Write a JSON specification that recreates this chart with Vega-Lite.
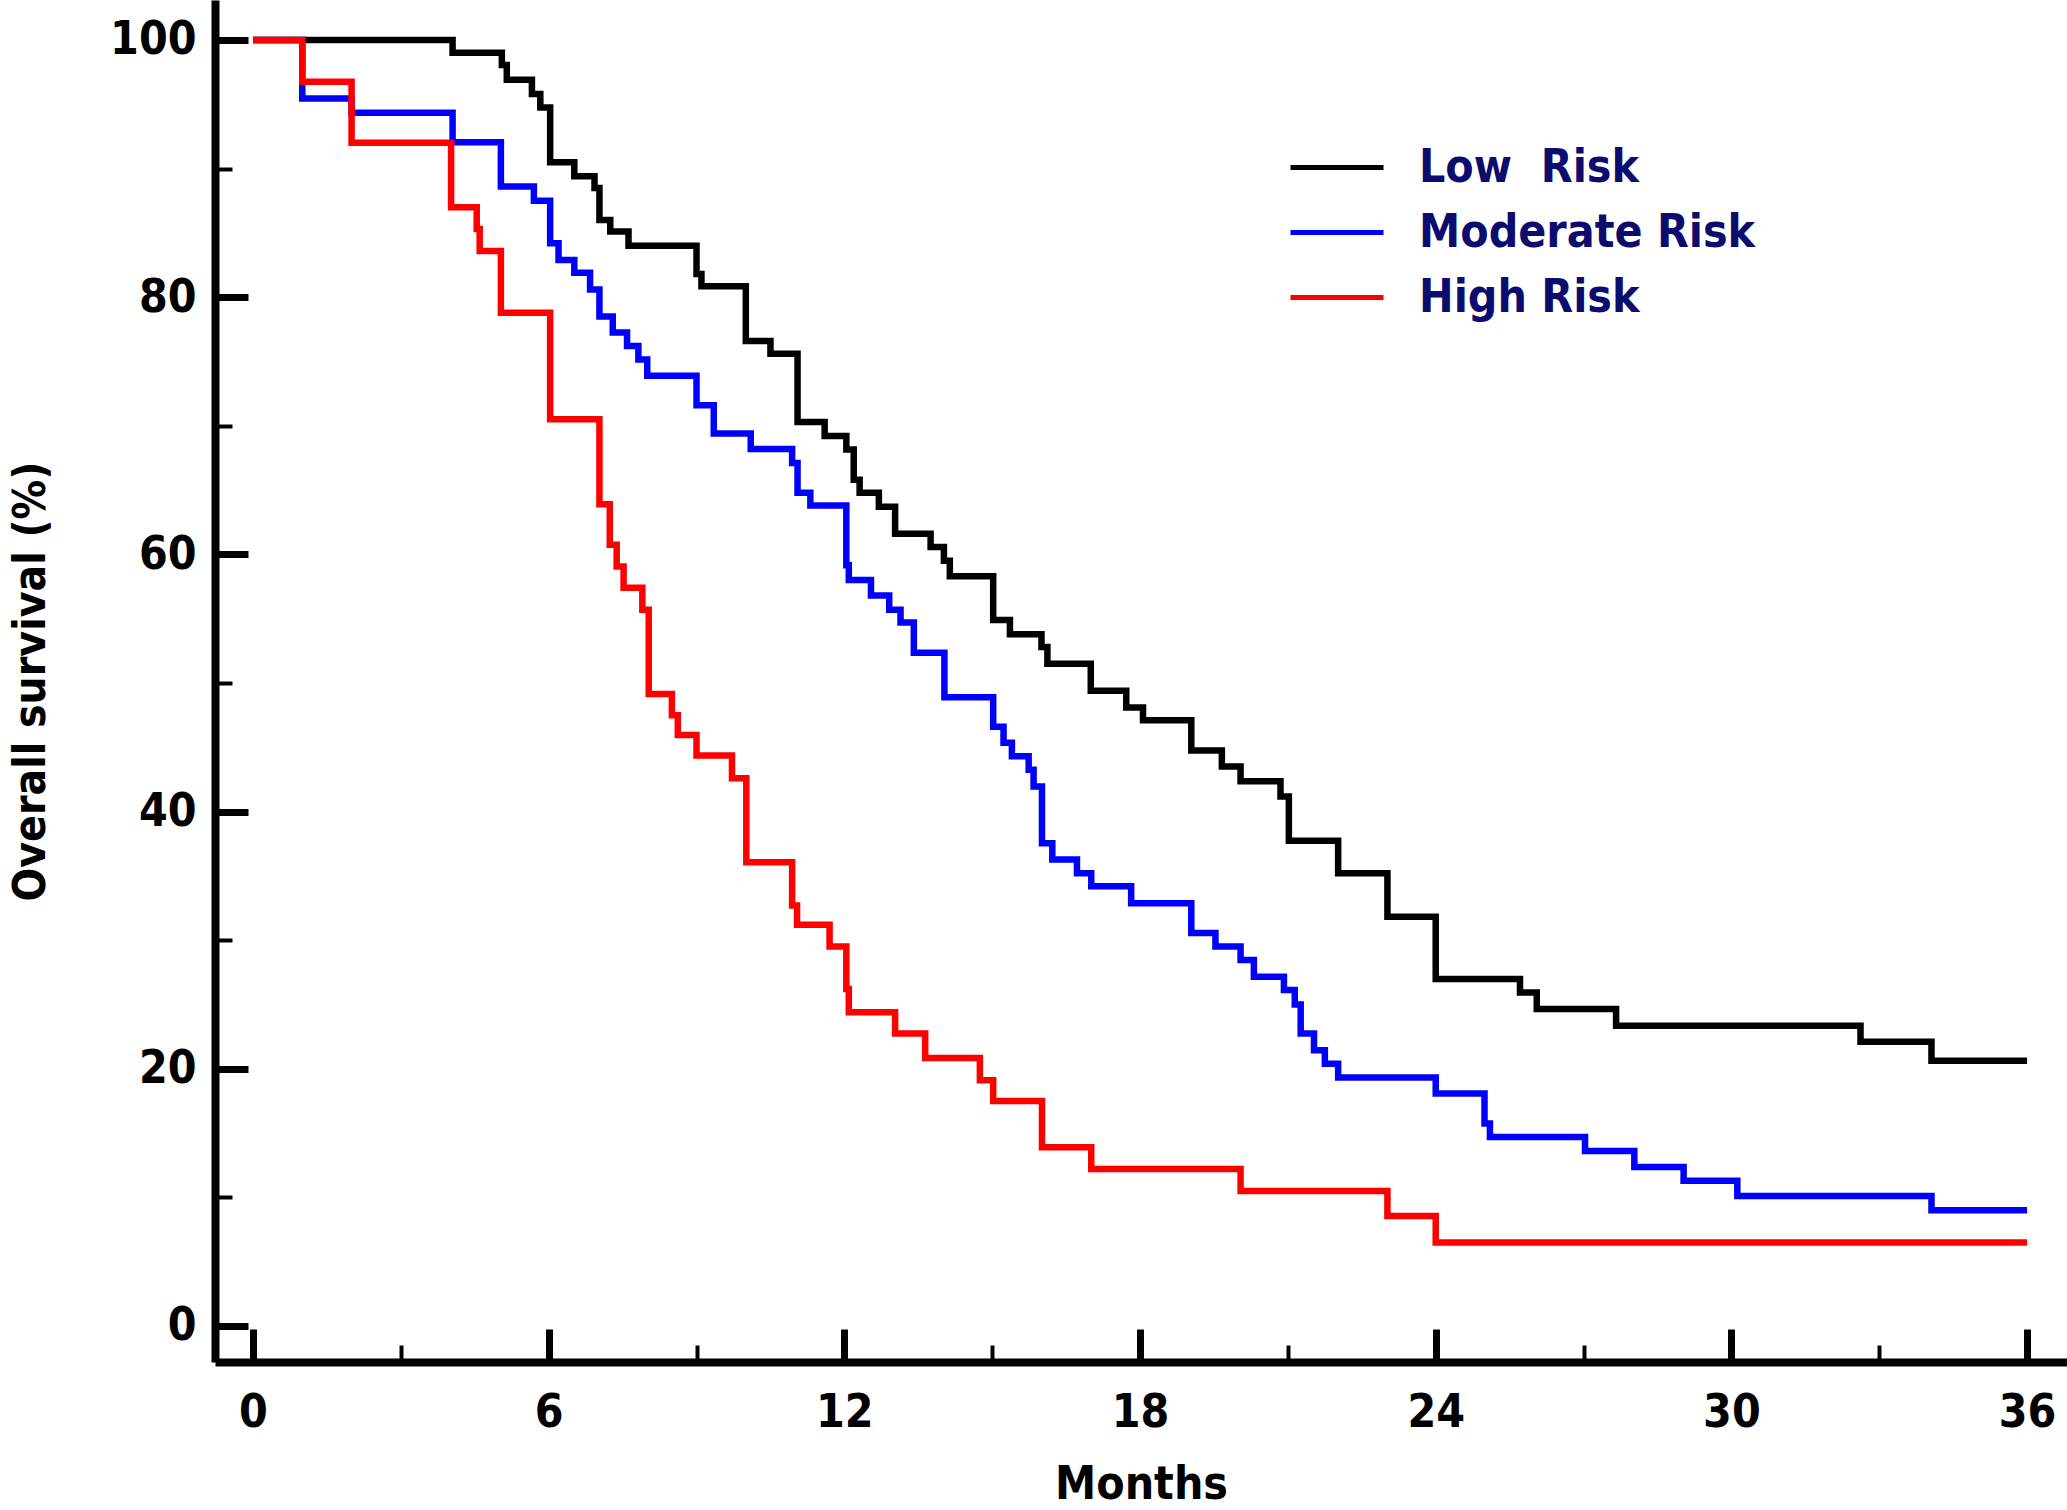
{
  "$schema": "https://vega.github.io/schema/vega-lite/v6.json",
  "width": 1852,
  "height": 1362,
  "autosize": {"type": "none"},
  "padding": {"left": 215, "top": 0, "right": 0, "bottom": 148},
  "background": "white",
  "config": {
    "view": {"stroke": null},
    "font": "DejaVu Sans Condensed",
    "axis": {"grid": false, "labelFont": "DejaVu Sans Condensed", "titleFont": "DejaVu Sans Condensed"}
  },
  "data": {
    "values": [
      {"group": "Low\u00a0 Risk", "month": 0, "pct": 100},
      {"group": "Low\u00a0 Risk", "month": 4.05, "pct": 99.0},
      {"group": "Low\u00a0 Risk", "month": 5.05, "pct": 98.05},
      {"group": "Low\u00a0 Risk", "month": 5.15, "pct": 96.9},
      {"group": "Low\u00a0 Risk", "month": 5.66, "pct": 95.8},
      {"group": "Low\u00a0 Risk", "month": 5.83, "pct": 94.76},
      {"group": "Low\u00a0 Risk", "month": 6.03, "pct": 90.5},
      {"group": "Low\u00a0 Risk", "month": 6.52, "pct": 89.4},
      {"group": "Low\u00a0 Risk", "month": 6.93, "pct": 88.5},
      {"group": "Low\u00a0 Risk", "month": 7.03, "pct": 86.0},
      {"group": "Low\u00a0 Risk", "month": 7.25, "pct": 85.1},
      {"group": "Low\u00a0 Risk", "month": 7.62, "pct": 84.0},
      {"group": "Low\u00a0 Risk", "month": 9.0, "pct": 81.8},
      {"group": "Low\u00a0 Risk", "month": 9.1, "pct": 80.86},
      {"group": "Low\u00a0 Risk", "month": 10.0, "pct": 76.6},
      {"group": "Low\u00a0 Risk", "month": 10.5, "pct": 75.6},
      {"group": "Low\u00a0 Risk", "month": 11.05, "pct": 70.3},
      {"group": "Low\u00a0 Risk", "month": 11.6, "pct": 69.2},
      {"group": "Low\u00a0 Risk", "month": 12.04, "pct": 68.15},
      {"group": "Low\u00a0 Risk", "month": 12.19, "pct": 65.8},
      {"group": "Low\u00a0 Risk", "month": 12.31, "pct": 64.8},
      {"group": "Low\u00a0 Risk", "month": 12.7, "pct": 63.7},
      {"group": "Low\u00a0 Risk", "month": 13.03, "pct": 61.6},
      {"group": "Low\u00a0 Risk", "month": 13.75, "pct": 60.57},
      {"group": "Low\u00a0 Risk", "month": 14.02, "pct": 59.5},
      {"group": "Low\u00a0 Risk", "month": 14.14, "pct": 58.3},
      {"group": "Low\u00a0 Risk", "month": 15.02, "pct": 54.9},
      {"group": "Low\u00a0 Risk", "month": 15.36, "pct": 53.8},
      {"group": "Low\u00a0 Risk", "month": 16.0, "pct": 52.8},
      {"group": "Low\u00a0 Risk", "month": 16.12, "pct": 51.5},
      {"group": "Low\u00a0 Risk", "month": 17.0, "pct": 49.4},
      {"group": "Low\u00a0 Risk", "month": 17.72, "pct": 48.1},
      {"group": "Low\u00a0 Risk", "month": 18.06, "pct": 47.1},
      {"group": "Low\u00a0 Risk", "month": 19.04, "pct": 44.75},
      {"group": "Low\u00a0 Risk", "month": 19.66, "pct": 43.5},
      {"group": "Low\u00a0 Risk", "month": 20.04, "pct": 42.36},
      {"group": "Low\u00a0 Risk", "month": 20.85, "pct": 41.17},
      {"group": "Low\u00a0 Risk", "month": 21.02, "pct": 37.74},
      {"group": "Low\u00a0 Risk", "month": 22.02, "pct": 35.2},
      {"group": "Low\u00a0 Risk", "month": 23.02, "pct": 31.83},
      {"group": "Low\u00a0 Risk", "month": 24.0, "pct": 26.98},
      {"group": "Low\u00a0 Risk", "month": 25.71, "pct": 25.94},
      {"group": "Low\u00a0 Risk", "month": 26.05, "pct": 24.65},
      {"group": "Low\u00a0 Risk", "month": 27.66, "pct": 23.35},
      {"group": "Low\u00a0 Risk", "month": 32.62, "pct": 22.1},
      {"group": "Low\u00a0 Risk", "month": 34.06, "pct": 20.62},
      {"group": "Low\u00a0 Risk", "month": 36.0, "pct": 20.62},
      {"group": "Moderate Risk", "month": 0, "pct": 100},
      {"group": "Moderate Risk", "month": 1.0, "pct": 95.46},
      {"group": "Moderate Risk", "month": 2.0, "pct": 94.35},
      {"group": "Moderate Risk", "month": 4.05, "pct": 92.04},
      {"group": "Moderate Risk", "month": 5.03, "pct": 88.6},
      {"group": "Moderate Risk", "month": 5.7, "pct": 87.5},
      {"group": "Moderate Risk", "month": 6.03, "pct": 84.2},
      {"group": "Moderate Risk", "month": 6.2, "pct": 82.9},
      {"group": "Moderate Risk", "month": 6.52, "pct": 81.9},
      {"group": "Moderate Risk", "month": 6.84, "pct": 80.6},
      {"group": "Moderate Risk", "month": 7.03, "pct": 78.5},
      {"group": "Moderate Risk", "month": 7.3, "pct": 77.25},
      {"group": "Moderate Risk", "month": 7.59, "pct": 76.2},
      {"group": "Moderate Risk", "month": 7.82, "pct": 75.15},
      {"group": "Moderate Risk", "month": 8.0, "pct": 73.9},
      {"group": "Moderate Risk", "month": 9.0, "pct": 71.6},
      {"group": "Moderate Risk", "month": 9.35, "pct": 69.4},
      {"group": "Moderate Risk", "month": 10.1, "pct": 68.2},
      {"group": "Moderate Risk", "month": 10.94, "pct": 67.1},
      {"group": "Moderate Risk", "month": 11.05, "pct": 64.8},
      {"group": "Moderate Risk", "month": 11.31, "pct": 63.8},
      {"group": "Moderate Risk", "month": 12.04, "pct": 59.15},
      {"group": "Moderate Risk", "month": 12.09, "pct": 58.0},
      {"group": "Moderate Risk", "month": 12.54, "pct": 56.8},
      {"group": "Moderate Risk", "month": 12.91, "pct": 55.7},
      {"group": "Moderate Risk", "month": 13.14, "pct": 54.7},
      {"group": "Moderate Risk", "month": 13.41, "pct": 52.35},
      {"group": "Moderate Risk", "month": 14.03, "pct": 48.9},
      {"group": "Moderate Risk", "month": 15.02, "pct": 46.6},
      {"group": "Moderate Risk", "month": 15.23, "pct": 45.35},
      {"group": "Moderate Risk", "month": 15.4, "pct": 44.3},
      {"group": "Moderate Risk", "month": 15.74, "pct": 43.25},
      {"group": "Moderate Risk", "month": 15.84, "pct": 41.95},
      {"group": "Moderate Risk", "month": 16.01, "pct": 37.54},
      {"group": "Moderate Risk", "month": 16.22, "pct": 36.27},
      {"group": "Moderate Risk", "month": 16.72, "pct": 35.2},
      {"group": "Moderate Risk", "month": 17.01, "pct": 34.2},
      {"group": "Moderate Risk", "month": 17.82, "pct": 32.87},
      {"group": "Moderate Risk", "month": 19.04, "pct": 30.56},
      {"group": "Moderate Risk", "month": 19.53, "pct": 29.5},
      {"group": "Moderate Risk", "month": 20.04, "pct": 28.46},
      {"group": "Moderate Risk", "month": 20.31, "pct": 27.16},
      {"group": "Moderate Risk", "month": 20.92, "pct": 26.12},
      {"group": "Moderate Risk", "month": 21.14, "pct": 25.0},
      {"group": "Moderate Risk", "month": 21.26, "pct": 22.75},
      {"group": "Moderate Risk", "month": 21.53, "pct": 21.45},
      {"group": "Moderate Risk", "month": 21.75, "pct": 20.4},
      {"group": "Moderate Risk", "month": 22.02, "pct": 19.33},
      {"group": "Moderate Risk", "month": 24.0, "pct": 18.08},
      {"group": "Moderate Risk", "month": 24.99, "pct": 15.75},
      {"group": "Moderate Risk", "month": 25.1, "pct": 14.7},
      {"group": "Moderate Risk", "month": 27.03, "pct": 13.6},
      {"group": "Moderate Risk", "month": 28.03, "pct": 12.37},
      {"group": "Moderate Risk", "month": 29.03, "pct": 11.3},
      {"group": "Moderate Risk", "month": 30.12, "pct": 10.1},
      {"group": "Moderate Risk", "month": 34.06, "pct": 9.0},
      {"group": "Moderate Risk", "month": 36.0, "pct": 9.0},
      {"group": "High Risk", "month": 0, "pct": 100},
      {"group": "High Risk", "month": 1.0, "pct": 96.76},
      {"group": "High Risk", "month": 2.0, "pct": 92.0},
      {"group": "High Risk", "month": 4.02, "pct": 87.0},
      {"group": "High Risk", "month": 4.54, "pct": 85.3},
      {"group": "High Risk", "month": 4.6, "pct": 83.6},
      {"group": "High Risk", "month": 5.03, "pct": 78.8},
      {"group": "High Risk", "month": 6.03, "pct": 70.5},
      {"group": "High Risk", "month": 7.03, "pct": 63.9},
      {"group": "High Risk", "month": 7.24, "pct": 60.75},
      {"group": "High Risk", "month": 7.38, "pct": 59.06},
      {"group": "High Risk", "month": 7.52, "pct": 57.4},
      {"group": "High Risk", "month": 7.9, "pct": 55.7},
      {"group": "High Risk", "month": 8.03, "pct": 49.15},
      {"group": "High Risk", "month": 8.5, "pct": 47.5},
      {"group": "High Risk", "month": 8.62, "pct": 45.96},
      {"group": "High Risk", "month": 9.0, "pct": 44.36},
      {"group": "High Risk", "month": 9.72, "pct": 42.6},
      {"group": "High Risk", "month": 10.01, "pct": 36.06},
      {"group": "High Risk", "month": 10.94, "pct": 32.7},
      {"group": "High Risk", "month": 11.04, "pct": 31.2},
      {"group": "High Risk", "month": 11.7, "pct": 29.5},
      {"group": "High Risk", "month": 12.04, "pct": 26.2},
      {"group": "High Risk", "month": 12.09, "pct": 24.4},
      {"group": "High Risk", "month": 13.03, "pct": 22.75},
      {"group": "High Risk", "month": 13.64, "pct": 20.83},
      {"group": "High Risk", "month": 14.75, "pct": 19.1},
      {"group": "High Risk", "month": 15.02, "pct": 17.5},
      {"group": "High Risk", "month": 16.01, "pct": 13.9},
      {"group": "High Risk", "month": 17.01, "pct": 12.2},
      {"group": "High Risk", "month": 20.04, "pct": 10.5},
      {"group": "High Risk", "month": 23.02, "pct": 8.56},
      {"group": "High Risk", "month": 24.0, "pct": 6.5},
      {"group": "High Risk", "month": 36.0, "pct": 6.5}
    ]
  },
  "layer": [
    {
      "mark": {"type": "line", "interpolate": "step-after", "strokeWidth": 6.5},
      "encoding": {
        "x": {
          "field": "month", "type": "quantitative",
          "scale": {"domain": [-0.771, 36.81], "nice": false, "zero": false},
          "axis": {
            "orient": "bottom", "values": [0, 6, 12, 18, 24, 30, 36],
            "domain": true, "domainColor": "black", "domainWidth": 8,
            "ticks": true, "tickSize": -33, "tickWidth": 7, "tickColor": "black",
            "labelFontSize": 46, "labelFontWeight": "bold", "labelColor": "black",
            "labelPadding": 61, "labelFlush": false, "labelOverlap": false, "labelBaseline": "top",
            "title": "Months", "titleFontSize": 46, "titleFontWeight": "bold", "titleColor": "black",
            "titleX": 926, "titleY": 100, "titleBaseline": "top", "titleAlign": "center"
          }
        },
        "y": {
          "field": "pct", "type": "quantitative",
          "scale": {"domain": [-2.8, 103.11], "nice": false, "zero": false},
          "axis": {
            "orient": "left", "values": [0, 20, 40, 60, 80, 100],
            "domain": true, "domainColor": "black", "domainWidth": 8,
            "ticks": true, "tickSize": -33, "tickWidth": 7, "tickColor": "black",
            "labelFontSize": 46, "labelFontWeight": "bold", "labelColor": "black",
            "labelPadding": 52, "labelAlign": "right", "labelBaseline": "middle", "labelOverlap": false,
            "title": "Overall survival (%)", "titleFontSize": 44, "titleFontWeight": "bold", "titleColor": "black",
            "titleX": -184, "titleY": 681, "titleBaseline": "middle", "titleAlign": "center", "titleAngle": -90
          }
        },
        "color": {
          "field": "group", "type": "nominal",
          "scale": {"domain": ["Low\u00a0 Risk", "Moderate Risk", "High Risk"], "range": ["#000000", "#0000ff", "#ff0000"]},
          "legend": {
            "orient": "none", "legendX": 1073, "legendY": 135, "title": null,
            "symbolType": "stroke", "symbolSize": 8649, "symbolStrokeWidth": 5,
            "labelFont": "DejaVu Sans Condensed", "labelFontSize": 46, "labelFontWeight": "bold",
            "labelColor": "#0c0c6e", "labelOffset": 33, "rowPadding": 0, "clipHeight": 65, "labelLimit": 0
          }
        }
      }
    },
    {
      "mark": {"type": "point", "opacity": 0},
      "encoding": {
        "x": {
          "field": "month", "type": "quantitative",
          "axis": {
            "orient": "bottom", "values": [3, 9, 15, 21, 27, 33],
            "domain": false, "labels": false, "title": null,
            "ticks": true, "tickSize": -17, "tickWidth": 4, "tickColor": "black"
          }
        },
        "y": {
          "field": "pct", "type": "quantitative",
          "axis": {
            "orient": "left", "values": [10, 30, 50, 70, 90],
            "domain": false, "labels": false, "title": null,
            "ticks": true, "tickSize": -17, "tickWidth": 4, "tickColor": "black"
          }
        }
      }
    }
  ],
  "resolve": {"axis": {"x": "independent", "y": "independent"}}
}
